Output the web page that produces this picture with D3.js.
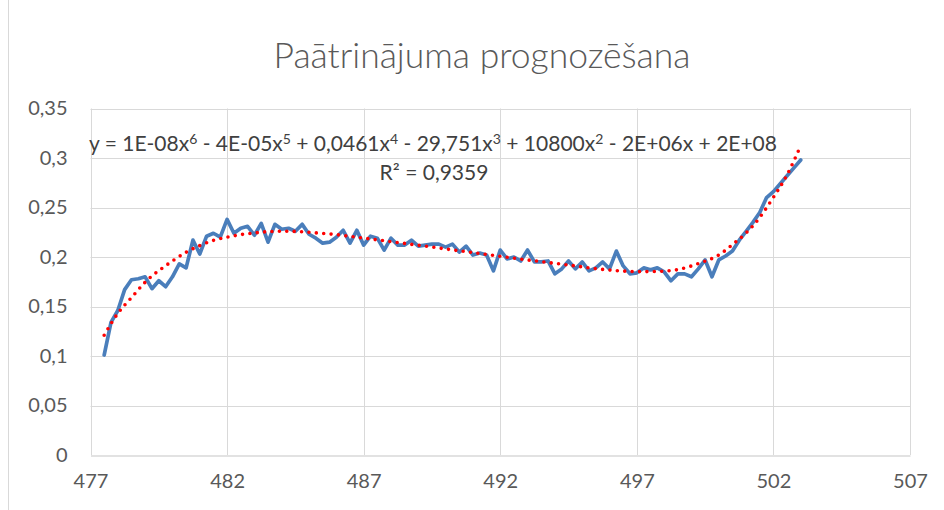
<!DOCTYPE html>
<html>
<head>
<meta charset="utf-8">
<script src="https://cdn.jsdelivr.net/npm/d3@7"></script>
<style>
  html, body { margin: 0; padding: 0; background: #ffffff; }
  svg { display: block; }
  text { font-family: Lato, "Open Sans", "DejaVu Sans", sans-serif; }
</style>
</head>
<body>
<script>
// Measured series: acceleration readings
const xValues = [
  477.5, 477.75, 478, 478.25, 478.5, 478.75, 479, 479.25, 479.5, 479.75,
  480, 480.25, 480.5, 480.75, 481, 481.25, 481.5, 481.75, 482, 482.25,
  482.5, 482.75, 483, 483.25, 483.5, 483.75, 484, 484.25, 484.5, 484.75,
  485, 485.25, 485.5, 485.75, 486, 486.25, 486.5, 486.75, 487, 487.25,
  487.5, 487.75, 488, 488.25, 488.5, 488.75, 489, 489.25, 489.5, 489.75,
  490, 490.25, 490.5, 490.75, 491, 491.25, 491.5, 491.75, 492, 492.25,
  492.5, 492.75, 493, 493.25, 493.5, 493.75, 494, 494.25, 494.5, 494.75,
  495, 495.25, 495.5, 495.75, 496, 496.25, 496.5, 496.75, 497, 497.25,
  497.5, 497.75, 498, 498.25, 498.5, 498.75, 499, 499.25, 499.5, 499.75,
  500, 500.25, 500.5, 500.75, 501, 501.25, 501.5, 501.75, 502, 502.25,
  502.5, 502.75, 503
];
const yValues = [
  0.101, 0.134, 0.146, 0.167, 0.177, 0.178, 0.180, 0.168, 0.176, 0.170,
  0.180, 0.193, 0.189, 0.217, 0.203, 0.221, 0.224, 0.220, 0.238, 0.224,
  0.229, 0.231, 0.222, 0.234, 0.215, 0.233, 0.228, 0.229, 0.226, 0.233,
  0.223, 0.219, 0.214, 0.215, 0.220, 0.227, 0.214, 0.227, 0.212, 0.221,
  0.219, 0.207, 0.219, 0.212, 0.212, 0.217, 0.211, 0.212, 0.213, 0.213,
  0.210, 0.213, 0.205, 0.211, 0.202, 0.204, 0.202, 0.186, 0.207, 0.198,
  0.200, 0.196, 0.207, 0.195, 0.195, 0.196, 0.183, 0.188, 0.196, 0.188,
  0.195, 0.186, 0.189, 0.195, 0.188, 0.206, 0.191, 0.183, 0.184, 0.189,
  0.187, 0.189, 0.185, 0.176, 0.183, 0.183, 0.180, 0.188, 0.197, 0.180,
  0.197, 0.201, 0.206, 0.217, 0.226, 0.235, 0.245, 0.260, 0.266, 0.274,
  0.282, 0.290, 0.298
];

// 6th-order polynomial trend, sampled along the data range
const trendX = [
  477.5, 478, 478.5, 479, 479.5, 480, 480.5, 481, 481.5, 482,
  482.5, 483, 483.5, 484, 484.5, 485, 485.5, 486, 486.5, 487,
  487.5, 488, 488.5, 489, 489.5, 490, 490.5, 491, 491.5, 492,
  492.5, 493, 493.5, 494, 494.5, 495, 495.5, 496, 496.5, 497,
  497.5, 498, 498.5, 499, 499.5, 500, 500.5, 501, 501.5, 502,
  502.5, 503
];
const trendY = [
  0.121, 0.143, 0.159, 0.1745, 0.1862, 0.196, 0.2048, 0.2115, 0.2168, 0.2200,
  0.2226, 0.2243, 0.2256, 0.2260, 0.2258, 0.2250, 0.2238, 0.2226, 0.2208, 0.2191,
  0.2173, 0.2155, 0.2137, 0.2119, 0.2101, 0.2081, 0.2063, 0.2045, 0.2026, 0.2007,
  0.1988, 0.1970, 0.1953, 0.1936, 0.1919, 0.1900, 0.1882, 0.1868, 0.1858, 0.1853,
  0.1853, 0.1857, 0.1873, 0.1910, 0.1958, 0.2020, 0.2125, 0.2243, 0.2400, 0.2603,
  0.2830, 0.3125
];

// Axes
const xTicks = [477, 482, 487, 492, 497, 502, 507];
const yTicks = [0, 0.05, 0.1, 0.15, 0.2, 0.25, 0.3, 0.35];
const yTickLabels = ["0", "0,05", "0,1", "0,15", "0,2", "0,25", "0,3", "0,35"];

const titleText = "Paātrinājuma prognozēšana";
// Trendline equation, split into [base text, superscript] pieces
const equationParts = [
  ["y = 1E-08x", "6"], [" - 4E-05x", "5"], [" + 0,0461x", "4"],
  [" - 29,751x", "3"], [" + 10800x", "2"], [" - 2E+06x + 2E+08", ""]
];
const rSquaredText = "R² = 0,9359";

const W = 944, H = 510;
const svg = d3.select("body").append("svg").attr("width", W).attr("height", H);

const x = d3.scaleLinear().domain([477, 507]).range([90.5, 910]);
const y = d3.scaleLinear().domain([0, 0.35]).range([455, 108.5]);

// chart area border (left edge)
svg.append("line")
  .attr("x1", 8.5).attr("x2", 8.5).attr("y1", 0).attr("y2", H)
  .attr("stroke", "#d9d9d9").attr("stroke-width", 1);

// gridlines
const grid = svg.append("g");
grid.selectAll("line.h").data(yTicks.filter(d => d > 0)).join("line")
  .attr("class", "h")
  .attr("x1", x(477)).attr("x2", x(507))
  .attr("y1", d => Math.round(y(d)) + 0.5).attr("y2", d => Math.round(y(d)) + 0.5)
  .attr("stroke", "#d9d9d9").attr("stroke-width", 1);
grid.selectAll("line.v").data(xTicks).join("line")
  .attr("class", "v")
  .attr("x1", d => Math.round(x(d)) + 0.5).attr("x2", d => Math.round(x(d)) + 0.5)
  .attr("y1", y(0.35)).attr("y2", y(0))
  .attr("stroke", "#d9d9d9").attr("stroke-width", 1);

// x axis
const xAxis = svg.append("g")
  .attr("transform", `translate(0,${Math.round(y(0)) + 0.5})`)
  .call(d3.axisBottom(x).tickValues(xTicks).tickSize(0).tickPadding(18).tickFormat(d3.format("d")));
xAxis.select(".domain").attr("stroke", "#d9d9d9").attr("stroke-width", 1.3);
xAxis.selectAll("text")
  .attr("fill", "#595959").style("font-size", "20px").style("font-family", "Lato, sans-serif");

// y axis (labels only)
const yAxis = svg.append("g")
  .attr("transform", `translate(${x(477)},0)`)
  .call(d3.axisLeft(y).tickValues(yTicks).tickSize(0).tickPadding(23)
    .tickFormat((d, i) => yTickLabels[i]));
yAxis.select(".domain").remove();
yAxis.selectAll("text")
  .attr("fill", "#595959").style("font-size", "20px").style("font-family", "Lato, sans-serif");

// measured series
const line = d3.line().x((d, i) => x(xValues[i])).y(d => y(d));
svg.append("path")
  .datum(yValues)
  .attr("d", line)
  .attr("fill", "none")
  .attr("stroke", "#4a7ebb")
  .attr("stroke-width", 3.7)
  .attr("stroke-linejoin", "round")
  .attr("stroke-linecap", "round");

// trendline (round dots)
const trend = d3.line().x((d, i) => x(trendX[i])).y(d => y(d)).curve(d3.curveNatural);
svg.append("path")
  .datum(trendY)
  .attr("d", trend)
  .attr("fill", "none")
  .attr("stroke", "#ff0000")
  .attr("stroke-width", 3.6)
  .attr("stroke-linecap", "round")
  .attr("stroke-dasharray", "0 7.4");

// title
svg.append("text")
  .attr("x", 482).attr("y", 68)
  .attr("text-anchor", "middle")
  .attr("fill", "#595959")
  .style("font-size", "35.5px")
  .style("font-weight", 300)
  .text(titleText);

// trendline equation label
const eq = svg.append("text")
  .attr("x", 433).attr("y", 151)
  .attr("text-anchor", "middle")
  .attr("fill", "#404040")
  .style("font-size", "21px");
let raised = false;
equationParts.forEach(([base, sup]) => {
  eq.append("tspan").attr("dy", raised ? 7 : 0).text(base);
  raised = false;
  if (sup) {
    eq.append("tspan").attr("dy", -7).style("font-size", "14px").text(sup);
    raised = true;
  }
});
svg.append("text")
  .attr("x", 434).attr("y", 180)
  .attr("text-anchor", "middle")
  .attr("fill", "#404040")
  .style("font-size", "21px")
  .text(rSquaredText);
</script>
</body>
</html>
